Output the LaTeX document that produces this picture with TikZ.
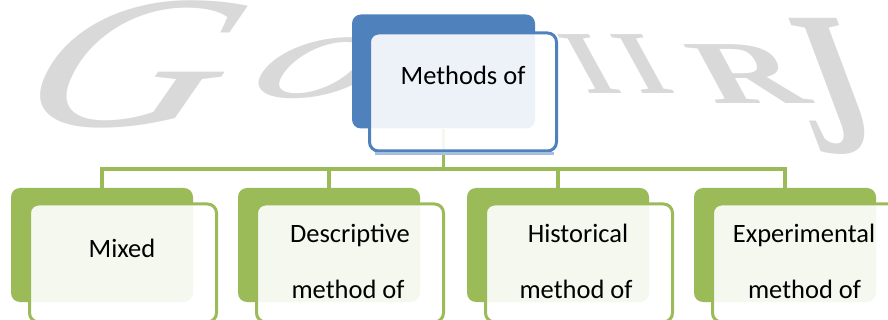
\documentclass[tikz,border=0pt]{standalone}
\usepackage{fontspec}
\setmainfont{Carlito}
\newfontfamily\wmfont{Liberation Serif}
\definecolor{accblue}{HTML}{4F81BD}
\definecolor{accblueshade}{HTML}{A7BFDE}
\definecolor{accgreen}{HTML}{9BBB59}
\definecolor{wmgray}{HTML}{D9D9D9}

\begin{document}
\begin{tikzpicture}[x=1pt,y=-1pt,
  backbox/.style={rounded corners=9pt, inner sep=0pt,
    minimum width=183pt, minimum height=114pt},
  textbox/.style={rounded corners=9pt, inner sep=0pt, line width=3pt,
    fill=white, fill opacity=0.9, minimum width=187pt, minimum height=118pt},
  conn/.style={draw=accgreen, line width=3.5pt},
  lbl/.style={font=\fontsize{26.5}{30}\selectfont, anchor=base, inner sep=0pt, text=black},
  wm/.style={text=wmgray, inner sep=0pt, transform shape},
]
\useasboundingbox (0,0) rectangle (888,320);
\clip (0,0) rectangle (888,320);

% faint journal watermark behind the chart
\node[wm, font=\wmfont\itshape\fontsize{190}{190}\selectfont, xscale=1.45, xslant=0.3] (wmG) at (135,64) {G};
\node[wm, font=\wmfont\itshape\fontsize{127}{127}\selectfont, xscale=2, xslant=0.3] (wmO) at (322,68) {o};
\node[wm, font=\wmfont\bfseries\fontsize{90}{90}\selectfont, xscale=1.1, xslant=-0.5] (wmI1) at (590,64) {I};
\node[wm, font=\wmfont\bfseries\fontsize{90}{90}\selectfont, xscale=1.1, xslant=-0.5] (wmI2) at (643,64) {I};
\node[wm, font=\wmfont\bfseries\fontsize{90}{90}\selectfont, xscale=1.55, xslant=-0.35] (wmR) at (748,74) {R};
\node[wm, font=\wmfont\bfseries\fontsize{205}{205}\selectfont, xscale=0.75, xslant=-0.5] (wmJ) at (828,86) {J};

% back shapes
\node[backbox, fill=accblue] (root) at (443.5,71.5) {};
\foreach \i/\x in {1/11, 2/238, 3/467, 4/694}
  \node[backbox, minimum width=182pt, fill=accgreen] (m\i) at (\x+91,245) {};

% connectors
\coordinate (bus) at (0,169);
\draw[conn] (root.south) -- (root.south |- bus);
\draw[conn] (m1.north) |- (m4.north |- bus) -- (m4.north);
\draw[conn] (m2.north |- bus) -- (m2.north);
\draw[conn] (m3.north |- bus) -- (m3.north);

% text shapes
\node[textbox, draw=accblue] (rtext) at (463,92) {};
\draw[accblueshade, line width=2.5pt]
  ([xshift=7pt,yshift=-1pt]rtext.south west) -- ([xshift=-4pt,yshift=-1pt]rtext.south east);
\foreach \i/\x in {1/11, 2/238, 3/467, 4/694}
  \node[textbox, draw=accgreen] (t\i) at (\x+112,263) {};

% labels
\node[lbl] (lroot) at (463,85) {Methods of};
\node[lbl] (l1) at (122,258) {Mixed};
\node[lbl] (l2a) at (350,243) {Descriptive};
\node[lbl] (l2b) at (348,298) {method of};
\node[lbl] (l3a) at (578,243) {Historical};
\node[lbl] (l3b) at (576,298) {method of};
\node[lbl] (l4a) at (804,243) {Experimental};
\node[lbl] (l4b) at (804.5,298) {method of};
\end{tikzpicture}
\end{document}
